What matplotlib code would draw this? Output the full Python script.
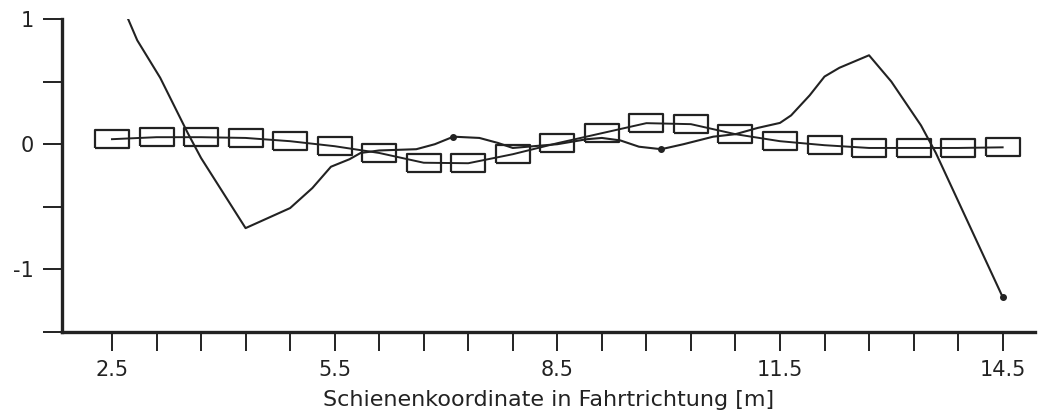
import numpy as np
import matplotlib
matplotlib.use("Agg")
import matplotlib.pyplot as plt

# Messpunkte (Kastenreihe) an jeder Achsmarke
x_box = [2.5 + 0.6 * i for i in range(21)]
y_box = [0.04, 0.056, 0.056, 0.05, 0.024, -0.016, -0.07, -0.148, -0.152, -0.08,
         0.008, 0.088, 0.168, 0.16, 0.08, 0.024, -0.008, -0.03, -0.03, -0.03, -0.025]

# durchgezogene Kurve
x_line = [2.5, 2.84, 3.15, 3.52, 3.7, 4.3, 4.9, 5.2, 5.45, 5.7, 5.85, 6.1, 6.6,
          6.85, 7.1, 7.45, 7.7, 7.9, 8.5, 8.9, 9.1, 9.35, 9.6, 9.9, 10.2, 10.6,
          10.9, 11.2, 11.5, 11.65, 11.9, 12.1, 12.3, 12.7, 13.0, 13.4, 13.6, 14.5]
y_line = [1.3, 0.83, 0.53, 0.09, -0.11, -0.67, -0.51, -0.35, -0.18, -0.12, -0.07,
          -0.05, -0.04, 0.0, 0.06, 0.05, 0.01, -0.03, 0.0, 0.04, 0.05, 0.03, -0.02,
          -0.04, 0.0, 0.06, 0.08, 0.13, 0.17, 0.23, 0.39, 0.54, 0.61, 0.71, 0.5,
          0.15, -0.07, -1.22]
dot_idx = [14, 23, 37]

xticks = [2.5 + 0.6 * i for i in range(21)]
xlabels = ["2.5", "5.5", "8.5", "11.5", "14.5"]
yticks = [1, 0.5, 0, -0.5, -1, -1.5]
ylabels = {1: "1", 0: "0", -1: "-1"}

fig = plt.figure(figsize=(10.5, 4.12), dpi=100)
ax = fig.add_axes([0.059, 0.194, 0.927, 0.76])

box = [(-1, -0.55), (1, -0.55), (1, 0.55), (-1, 0.55), (-1, -0.55)]
ax.plot(x_box, y_box, color="#222222", lw=1.4, marker=box, markersize=24,
        markerfacecolor="none", markeredgecolor="#222222", markeredgewidth=1.6)
ax.plot(x_line, y_line, color="#222222", lw=1.5, marker="o", markersize=4,
        markevery=dot_idx)

ax.set_xlim(1.826, 14.94)
ax.set_ylim(-1.5, 1.0)

for s in ["top", "right"]:
    ax.spines[s].set_visible(False)
for s in ["left", "bottom"]:
    ax.spines[s].set_linewidth(2.4)
    ax.spines[s].set_color("#222222")

ax.set_xticks(xticks)
ax.set_xticklabels([xlabels[i // 5] if i % 5 == 0 else "" for i in range(len(xticks))],
                   fontsize=15)
ax.set_yticks(yticks)
ax.set_yticklabels([ylabels.get(t, "") for t in yticks], fontsize=15)
ax.tick_params(axis="both", direction="out", length=14, width=1.4, color="#222222",
               labelcolor="#222222")
ax.tick_params(axis="x", pad=6)
ax.tick_params(axis="y", pad=6)

ax.set_xlabel("Schienenkoordinate in Fahrtrichtung [m]", fontsize=16,
              color="#222222", labelpad=7)

fig.savefig("out.png", dpi=100)
